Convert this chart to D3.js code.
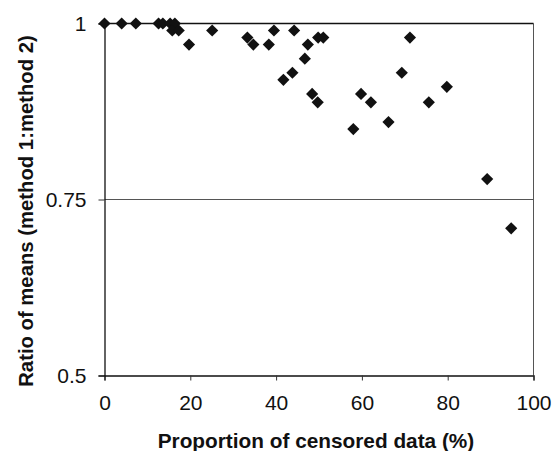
<!DOCTYPE html>
<html><head><meta charset="utf-8">
<script src="https://cdn.jsdelivr.net/npm/d3@7"></script>
<style>body{margin:0;background:#fff}svg{display:block}</style>
</head><body>
<svg id="c" width="553" height="451"></svg>
<script>
const censored = [0,4,7.3,12.6,13.6,15.3,16.4,15.8,17.3,19.7,25.1,33.3,34.7,38.3,39.5,41.7,44.2,47.4,49.8,51.0,46.7,43.8,48.4,49.7,71.2,69.3,59.8,62.1,58.0,66.2,75.6,79.8,89.2,94.8];
const ratio    = [1,1,1,1,1,1,1,0.99,0.99,0.97,0.99,0.98,0.97,0.97,0.99,0.92,0.99,0.97,0.98,0.98,0.95,0.93,0.90,0.888,0.98,0.93,0.90,0.888,0.85,0.86,0.888,0.91,0.779,0.709];
const xTicks = [0,20,40,60,80,100];
const yTicks = [0.5,0.75,1];
const yTickLabels = ["0.5","0.75","1"];

const svg = d3.select("#c");
const L=104.5, R=533.5, T=23.5, B=375.5;
const x = d3.scaleLinear().domain([0,100]).range([L,R]);
const y = d3.scaleLinear().domain([0.5,1]).range([B,T]);
const font = "Liberation Sans, Arial, sans-serif";

// frame
svg.append("line").attr("x1",R).attr("x2",R).attr("y1",T).attr("y2",B).attr("stroke","#555").attr("stroke-width",1);
// gridlines
svg.append("line").attr("x1",L).attr("x2",R).attr("y1",y(0.75)).attr("y2",y(0.75)).attr("stroke","#555").attr("stroke-width",1);
svg.append("line").attr("x1",L).attr("x2",R).attr("y1",y(1)).attr("y2",y(1)).attr("stroke","#111").attr("stroke-width",1.3);

const xa = svg.append("g").attr("transform",`translate(0,${B})`)
  .call(d3.axisBottom(x).tickValues(xTicks).tickSize(5).tickPadding(15).tickFormat(d3.format("d")));
const ya = svg.append("g").attr("transform",`translate(${L},0)`)
  .call(d3.axisLeft(y).tickValues(yTicks).tickSize(6).tickPadding(12).tickFormat((d,i)=>yTickLabels[i]));
[xa,ya].forEach(a=>{
  a.select(".domain").attr("stroke","#111").attr("stroke-width",1.3);
  a.selectAll(".tick line").attr("stroke","#333");
  a.selectAll("text").attr("font-family",font).attr("font-size",21).attr("fill","#111");
});

svg.append("g").selectAll("path").data(censored).join("path")
  .attr("d", d3.symbol(d3.symbolSquare, 74)())
  .attr("transform",(d,i)=>`translate(${x(d)},${y(ratio[i])}) rotate(45)`)
  .attr("fill","#111");

svg.append("text").attr("x",316).attr("y",448).attr("text-anchor","middle")
  .attr("font-family",font).attr("font-weight","bold").attr("font-size",20.8).attr("fill","#111")
  .text("Proportion of censored data (%)");
svg.append("text").attr("transform","translate(33,211) rotate(-90)").attr("text-anchor","middle")
  .attr("font-family",font).attr("font-weight","bold").attr("font-size",20.3).attr("fill","#111")
  .text("Ratio of means (method 1:method 2)");
</script>
</body></html>
